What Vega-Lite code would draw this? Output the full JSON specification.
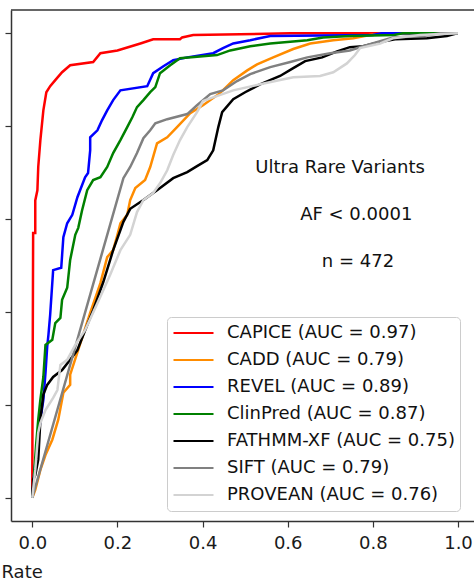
{
  "$schema": "https://vega.github.io/schema/vega-lite/v6.json",
  "width": 463,
  "height": 511,
  "autosize": {"type": "none"},
  "padding": {"left": 11, "top": 10, "right": 0, "bottom": 62},
  "background": "white",
  "config": {
    "view": {"stroke": null},
    "font": "DejaVu Sans",
    "axis": {"grid": false}
  },
  "layer": [
    {
      "data": {"values": [{}]},
      "mark": {"type": "rule", "color": "#333333", "strokeWidth": 1.5},
      "encoding": {"y": {"datum": 1.05, "type": "quantitative"}}
    },
    {
      "data": {"values": [
        {"m":"CAPICE (AUC = 0.97)","x":0,"y":0},{"m":"CAPICE (AUC = 0.97)","x":0,"y":0.039},{"m":"CAPICE (AUC = 0.97)","x":0.001,"y":0.3},{"m":"CAPICE (AUC = 0.97)","x":0.002,"y":0.57},{"m":"CAPICE (AUC = 0.97)","x":0.007,"y":0.57},{"m":"CAPICE (AUC = 0.97)","x":0.007,"y":0.64},{"m":"CAPICE (AUC = 0.97)","x":0.012,"y":0.662},{"m":"CAPICE (AUC = 0.97)","x":0.014,"y":0.712},{"m":"CAPICE (AUC = 0.97)","x":0.019,"y":0.77},{"m":"CAPICE (AUC = 0.97)","x":0.026,"y":0.834},{"m":"CAPICE (AUC = 0.97)","x":0.033,"y":0.873},{"m":"CAPICE (AUC = 0.97)","x":0.042,"y":0.886},{"m":"CAPICE (AUC = 0.97)","x":0.054,"y":0.899},{"m":"CAPICE (AUC = 0.97)","x":0.07,"y":0.916},{"m":"CAPICE (AUC = 0.97)","x":0.089,"y":0.931},{"m":"CAPICE (AUC = 0.97)","x":0.143,"y":0.938},{"m":"CAPICE (AUC = 0.97)","x":0.16,"y":0.957},{"m":"CAPICE (AUC = 0.97)","x":0.2,"y":0.963},{"m":"CAPICE (AUC = 0.97)","x":0.254,"y":0.978},{"m":"CAPICE (AUC = 0.97)","x":0.284,"y":0.987},{"m":"CAPICE (AUC = 0.97)","x":0.347,"y":0.987},{"m":"CAPICE (AUC = 0.97)","x":0.352,"y":0.991},{"m":"CAPICE (AUC = 0.97)","x":0.378,"y":0.996},{"m":"CAPICE (AUC = 0.97)","x":0.606,"y":1},{"m":"CAPICE (AUC = 0.97)","x":1,"y":1},
        {"m":"CADD (AUC = 0.79)","x":0,"y":0},{"m":"CADD (AUC = 0.79)","x":0.007,"y":0.017},{"m":"CADD (AUC = 0.79)","x":0.019,"y":0.06},{"m":"CADD (AUC = 0.79)","x":0.031,"y":0.092},{"m":"CADD (AUC = 0.79)","x":0.047,"y":0.125},{"m":"CADD (AUC = 0.79)","x":0.061,"y":0.168},{"m":"CADD (AUC = 0.79)","x":0.073,"y":0.226},{"m":"CADD (AUC = 0.79)","x":0.089,"y":0.243},{"m":"CADD (AUC = 0.79)","x":0.089,"y":0.265},{"m":"CADD (AUC = 0.79)","x":0.113,"y":0.333},{"m":"CADD (AUC = 0.79)","x":0.136,"y":0.398},{"m":"CADD (AUC = 0.79)","x":0.16,"y":0.462},{"m":"CADD (AUC = 0.79)","x":0.176,"y":0.518},{"m":"CADD (AUC = 0.79)","x":0.19,"y":0.533},{"m":"CADD (AUC = 0.79)","x":0.2,"y":0.566},{"m":"CADD (AUC = 0.79)","x":0.207,"y":0.591},{"m":"CADD (AUC = 0.79)","x":0.223,"y":0.609},{"m":"CADD (AUC = 0.79)","x":0.23,"y":0.641},{"m":"CADD (AUC = 0.79)","x":0.242,"y":0.667},{"m":"CADD (AUC = 0.79)","x":0.265,"y":0.684},{"m":"CADD (AUC = 0.79)","x":0.277,"y":0.712},{"m":"CADD (AUC = 0.79)","x":0.293,"y":0.763},{"m":"CADD (AUC = 0.79)","x":0.317,"y":0.776},{"m":"CADD (AUC = 0.79)","x":0.34,"y":0.798},{"m":"CADD (AUC = 0.79)","x":0.371,"y":0.828},{"m":"CADD (AUC = 0.79)","x":0.401,"y":0.845},{"m":"CADD (AUC = 0.79)","x":0.441,"y":0.871},{"m":"CADD (AUC = 0.79)","x":0.472,"y":0.899},{"m":"CADD (AUC = 0.79)","x":0.505,"y":0.92},{"m":"CADD (AUC = 0.79)","x":0.528,"y":0.933},{"m":"CADD (AUC = 0.79)","x":0.566,"y":0.948},{"m":"CADD (AUC = 0.79)","x":0.613,"y":0.966},{"m":"CADD (AUC = 0.79)","x":0.653,"y":0.978},{"m":"CADD (AUC = 0.79)","x":0.707,"y":0.985},{"m":"CADD (AUC = 0.79)","x":0.754,"y":0.989},{"m":"CADD (AUC = 0.79)","x":0.793,"y":0.996},{"m":"CADD (AUC = 0.79)","x":0.829,"y":1},{"m":"CADD (AUC = 0.79)","x":1,"y":1},
        {"m":"REVEL (AUC = 0.89)","x":0,"y":0},{"m":"REVEL (AUC = 0.89)","x":0.005,"y":0.06},{"m":"REVEL (AUC = 0.89)","x":0.014,"y":0.125},{"m":"REVEL (AUC = 0.89)","x":0.019,"y":0.168},{"m":"REVEL (AUC = 0.89)","x":0.026,"y":0.211},{"m":"REVEL (AUC = 0.89)","x":0.031,"y":0.269},{"m":"REVEL (AUC = 0.89)","x":0.035,"y":0.325},{"m":"REVEL (AUC = 0.89)","x":0.038,"y":0.351},{"m":"REVEL (AUC = 0.89)","x":0.042,"y":0.394},{"m":"REVEL (AUC = 0.89)","x":0.049,"y":0.49},{"m":"REVEL (AUC = 0.89)","x":0.068,"y":0.495},{"m":"REVEL (AUC = 0.89)","x":0.073,"y":0.561},{"m":"REVEL (AUC = 0.89)","x":0.082,"y":0.591},{"m":"REVEL (AUC = 0.89)","x":0.094,"y":0.609},{"m":"REVEL (AUC = 0.89)","x":0.106,"y":0.647},{"m":"REVEL (AUC = 0.89)","x":0.124,"y":0.69},{"m":"REVEL (AUC = 0.89)","x":0.131,"y":0.699},{"m":"REVEL (AUC = 0.89)","x":0.136,"y":0.748},{"m":"REVEL (AUC = 0.89)","x":0.136,"y":0.776},{"m":"REVEL (AUC = 0.89)","x":0.153,"y":0.791},{"m":"REVEL (AUC = 0.89)","x":0.164,"y":0.813},{"m":"REVEL (AUC = 0.89)","x":0.176,"y":0.834},{"m":"REVEL (AUC = 0.89)","x":0.19,"y":0.856},{"m":"REVEL (AUC = 0.89)","x":0.207,"y":0.877},{"m":"REVEL (AUC = 0.89)","x":0.27,"y":0.886},{"m":"REVEL (AUC = 0.89)","x":0.284,"y":0.914},{"m":"REVEL (AUC = 0.89)","x":0.308,"y":0.929},{"m":"REVEL (AUC = 0.89)","x":0.331,"y":0.942},{"m":"REVEL (AUC = 0.89)","x":0.364,"y":0.948},{"m":"REVEL (AUC = 0.89)","x":0.425,"y":0.957},{"m":"REVEL (AUC = 0.89)","x":0.448,"y":0.968},{"m":"REVEL (AUC = 0.89)","x":0.472,"y":0.978},{"m":"REVEL (AUC = 0.89)","x":0.512,"y":0.985},{"m":"REVEL (AUC = 0.89)","x":0.542,"y":0.991},{"m":"REVEL (AUC = 0.89)","x":0.559,"y":0.994},{"m":"REVEL (AUC = 0.89)","x":0.8,"y":0.996},{"m":"REVEL (AUC = 0.89)","x":0.82,"y":1},{"m":"REVEL (AUC = 0.89)","x":1,"y":1},
        {"m":"ClinPred (AUC = 0.87)","x":0,"y":0},{"m":"ClinPred (AUC = 0.87)","x":0.005,"y":0.06},{"m":"ClinPred (AUC = 0.87)","x":0.009,"y":0.114},{"m":"ClinPred (AUC = 0.87)","x":0.014,"y":0.168},{"m":"ClinPred (AUC = 0.87)","x":0.019,"y":0.211},{"m":"ClinPred (AUC = 0.87)","x":0.026,"y":0.26},{"m":"ClinPred (AUC = 0.87)","x":0.031,"y":0.329},{"m":"ClinPred (AUC = 0.87)","x":0.047,"y":0.34},{"m":"ClinPred (AUC = 0.87)","x":0.054,"y":0.376},{"m":"ClinPred (AUC = 0.87)","x":0.066,"y":0.387},{"m":"ClinPred (AUC = 0.87)","x":0.07,"y":0.426},{"m":"ClinPred (AUC = 0.87)","x":0.082,"y":0.452},{"m":"ClinPred (AUC = 0.87)","x":0.089,"y":0.512},{"m":"ClinPred (AUC = 0.87)","x":0.101,"y":0.566},{"m":"ClinPred (AUC = 0.87)","x":0.108,"y":0.581},{"m":"ClinPred (AUC = 0.87)","x":0.117,"y":0.619},{"m":"ClinPred (AUC = 0.87)","x":0.129,"y":0.662},{"m":"ClinPred (AUC = 0.87)","x":0.143,"y":0.684},{"m":"ClinPred (AUC = 0.87)","x":0.16,"y":0.69},{"m":"ClinPred (AUC = 0.87)","x":0.176,"y":0.712},{"m":"ClinPred (AUC = 0.87)","x":0.19,"y":0.742},{"m":"ClinPred (AUC = 0.87)","x":0.207,"y":0.77},{"m":"ClinPred (AUC = 0.87)","x":0.223,"y":0.798},{"m":"ClinPred (AUC = 0.87)","x":0.235,"y":0.819},{"m":"ClinPred (AUC = 0.87)","x":0.246,"y":0.841},{"m":"ClinPred (AUC = 0.87)","x":0.261,"y":0.856},{"m":"ClinPred (AUC = 0.87)","x":0.277,"y":0.873},{"m":"ClinPred (AUC = 0.87)","x":0.289,"y":0.884},{"m":"ClinPred (AUC = 0.87)","x":0.3,"y":0.914},{"m":"ClinPred (AUC = 0.87)","x":0.324,"y":0.931},{"m":"ClinPred (AUC = 0.87)","x":0.347,"y":0.946},{"m":"ClinPred (AUC = 0.87)","x":0.434,"y":0.953},{"m":"ClinPred (AUC = 0.87)","x":0.465,"y":0.963},{"m":"ClinPred (AUC = 0.87)","x":0.512,"y":0.972},{"m":"ClinPred (AUC = 0.87)","x":0.559,"y":0.978},{"m":"ClinPred (AUC = 0.87)","x":0.646,"y":0.985},{"m":"ClinPred (AUC = 0.87)","x":0.683,"y":0.991},{"m":"ClinPred (AUC = 0.87)","x":0.746,"y":0.994},{"m":"ClinPred (AUC = 0.87)","x":0.85,"y":0.996},{"m":"ClinPred (AUC = 0.87)","x":0.87,"y":1},{"m":"ClinPred (AUC = 0.87)","x":1,"y":1},
        {"m":"FATHMM-XF (AUC = 0.75)","x":0,"y":0},{"m":"FATHMM-XF (AUC = 0.75)","x":0.002,"y":0.039},{"m":"FATHMM-XF (AUC = 0.75)","x":0.007,"y":0.049},{"m":"FATHMM-XF (AUC = 0.75)","x":0.014,"y":0.082},{"m":"FATHMM-XF (AUC = 0.75)","x":0.019,"y":0.168},{"m":"FATHMM-XF (AUC = 0.75)","x":0.026,"y":0.222},{"m":"FATHMM-XF (AUC = 0.75)","x":0.035,"y":0.243},{"m":"FATHMM-XF (AUC = 0.75)","x":0.049,"y":0.26},{"m":"FATHMM-XF (AUC = 0.75)","x":0.07,"y":0.275},{"m":"FATHMM-XF (AUC = 0.75)","x":0.089,"y":0.297},{"m":"FATHMM-XF (AUC = 0.75)","x":0.106,"y":0.318},{"m":"FATHMM-XF (AUC = 0.75)","x":0.12,"y":0.351},{"m":"FATHMM-XF (AUC = 0.75)","x":0.143,"y":0.404},{"m":"FATHMM-XF (AUC = 0.75)","x":0.167,"y":0.465},{"m":"FATHMM-XF (AUC = 0.75)","x":0.19,"y":0.533},{"m":"FATHMM-XF (AUC = 0.75)","x":0.214,"y":0.594},{"m":"FATHMM-XF (AUC = 0.75)","x":0.23,"y":0.622},{"m":"FATHMM-XF (AUC = 0.75)","x":0.261,"y":0.641},{"m":"FATHMM-XF (AUC = 0.75)","x":0.293,"y":0.662},{"m":"FATHMM-XF (AUC = 0.75)","x":0.331,"y":0.688},{"m":"FATHMM-XF (AUC = 0.75)","x":0.364,"y":0.701},{"m":"FATHMM-XF (AUC = 0.75)","x":0.387,"y":0.714},{"m":"FATHMM-XF (AUC = 0.75)","x":0.411,"y":0.727},{"m":"FATHMM-XF (AUC = 0.75)","x":0.425,"y":0.748},{"m":"FATHMM-XF (AUC = 0.75)","x":0.437,"y":0.798},{"m":"FATHMM-XF (AUC = 0.75)","x":0.446,"y":0.83},{"m":"FATHMM-XF (AUC = 0.75)","x":0.472,"y":0.858},{"m":"FATHMM-XF (AUC = 0.75)","x":0.5,"y":0.873},{"m":"FATHMM-XF (AUC = 0.75)","x":0.535,"y":0.89},{"m":"FATHMM-XF (AUC = 0.75)","x":0.582,"y":0.908},{"m":"FATHMM-XF (AUC = 0.75)","x":0.613,"y":0.925},{"m":"FATHMM-XF (AUC = 0.75)","x":0.641,"y":0.94},{"m":"FATHMM-XF (AUC = 0.75)","x":0.681,"y":0.948},{"m":"FATHMM-XF (AUC = 0.75)","x":0.716,"y":0.961},{"m":"FATHMM-XF (AUC = 0.75)","x":0.746,"y":0.97},{"m":"FATHMM-XF (AUC = 0.75)","x":0.777,"y":0.972},{"m":"FATHMM-XF (AUC = 0.75)","x":0.817,"y":0.981},{"m":"FATHMM-XF (AUC = 0.75)","x":0.852,"y":0.987},{"m":"FATHMM-XF (AUC = 0.75)","x":0.927,"y":0.989},{"m":"FATHMM-XF (AUC = 0.75)","x":0.974,"y":0.994},{"m":"FATHMM-XF (AUC = 0.75)","x":0.998,"y":1},{"m":"FATHMM-XF (AUC = 0.75)","x":1,"y":1},
        {"m":"SIFT (AUC = 0.79)","x":0,"y":0},{"m":"SIFT (AUC = 0.79)","x":0.214,"y":0.688},{"m":"SIFT (AUC = 0.79)","x":0.23,"y":0.712},{"m":"SIFT (AUC = 0.79)","x":0.246,"y":0.742},{"m":"SIFT (AUC = 0.79)","x":0.261,"y":0.774},{"m":"SIFT (AUC = 0.79)","x":0.277,"y":0.791},{"m":"SIFT (AUC = 0.79)","x":0.289,"y":0.806},{"m":"SIFT (AUC = 0.79)","x":0.317,"y":0.815},{"m":"SIFT (AUC = 0.79)","x":0.364,"y":0.826},{"m":"SIFT (AUC = 0.79)","x":0.387,"y":0.845},{"m":"SIFT (AUC = 0.79)","x":0.418,"y":0.869},{"m":"SIFT (AUC = 0.79)","x":0.448,"y":0.877},{"m":"SIFT (AUC = 0.79)","x":0.481,"y":0.897},{"m":"SIFT (AUC = 0.79)","x":0.512,"y":0.912},{"m":"SIFT (AUC = 0.79)","x":0.559,"y":0.927},{"m":"SIFT (AUC = 0.79)","x":0.606,"y":0.938},{"m":"SIFT (AUC = 0.79)","x":0.646,"y":0.948},{"m":"SIFT (AUC = 0.79)","x":0.7,"y":0.957},{"m":"SIFT (AUC = 0.79)","x":0.746,"y":0.963},{"m":"SIFT (AUC = 0.79)","x":0.777,"y":0.972},{"m":"SIFT (AUC = 0.79)","x":0.817,"y":0.983},{"m":"SIFT (AUC = 0.79)","x":0.847,"y":0.991},{"m":"SIFT (AUC = 0.79)","x":0.918,"y":0.994},{"m":"SIFT (AUC = 0.79)","x":0.958,"y":1},{"m":"SIFT (AUC = 0.79)","x":1,"y":1},
        {"m":"PROVEAN (AUC = 0.76)","x":0,"y":0},{"m":"PROVEAN (AUC = 0.76)","x":0.007,"y":0.06},{"m":"PROVEAN (AUC = 0.76)","x":0.014,"y":0.14},{"m":"PROVEAN (AUC = 0.76)","x":0.019,"y":0.161},{"m":"PROVEAN (AUC = 0.76)","x":0.031,"y":0.189},{"m":"PROVEAN (AUC = 0.76)","x":0.049,"y":0.215},{"m":"PROVEAN (AUC = 0.76)","x":0.059,"y":0.232},{"m":"PROVEAN (AUC = 0.76)","x":0.066,"y":0.286},{"m":"PROVEAN (AUC = 0.76)","x":0.082,"y":0.297},{"m":"PROVEAN (AUC = 0.76)","x":0.101,"y":0.329},{"m":"PROVEAN (AUC = 0.76)","x":0.124,"y":0.361},{"m":"PROVEAN (AUC = 0.76)","x":0.153,"y":0.419},{"m":"PROVEAN (AUC = 0.76)","x":0.183,"y":0.48},{"m":"PROVEAN (AUC = 0.76)","x":0.207,"y":0.533},{"m":"PROVEAN (AUC = 0.76)","x":0.23,"y":0.566},{"m":"PROVEAN (AUC = 0.76)","x":0.246,"y":0.615},{"m":"PROVEAN (AUC = 0.76)","x":0.261,"y":0.641},{"m":"PROVEAN (AUC = 0.76)","x":0.284,"y":0.656},{"m":"PROVEAN (AUC = 0.76)","x":0.3,"y":0.677},{"m":"PROVEAN (AUC = 0.76)","x":0.317,"y":0.705},{"m":"PROVEAN (AUC = 0.76)","x":0.331,"y":0.738},{"m":"PROVEAN (AUC = 0.76)","x":0.347,"y":0.77},{"m":"PROVEAN (AUC = 0.76)","x":0.364,"y":0.798},{"m":"PROVEAN (AUC = 0.76)","x":0.387,"y":0.83},{"m":"PROVEAN (AUC = 0.76)","x":0.401,"y":0.854},{"m":"PROVEAN (AUC = 0.76)","x":0.425,"y":0.862},{"m":"PROVEAN (AUC = 0.76)","x":0.472,"y":0.877},{"m":"PROVEAN (AUC = 0.76)","x":0.535,"y":0.89},{"m":"PROVEAN (AUC = 0.76)","x":0.613,"y":0.905},{"m":"PROVEAN (AUC = 0.76)","x":0.676,"y":0.908},{"m":"PROVEAN (AUC = 0.76)","x":0.707,"y":0.916},{"m":"PROVEAN (AUC = 0.76)","x":0.739,"y":0.935},{"m":"PROVEAN (AUC = 0.76)","x":0.758,"y":0.953},{"m":"PROVEAN (AUC = 0.76)","x":0.77,"y":0.968},{"m":"PROVEAN (AUC = 0.76)","x":0.817,"y":0.978},{"m":"PROVEAN (AUC = 0.76)","x":0.847,"y":0.989},{"m":"PROVEAN (AUC = 0.76)","x":0.911,"y":0.996},{"m":"PROVEAN (AUC = 0.76)","x":1,"y":1}
      ]},
      "mark": {"type": "line", "strokeWidth": 2.5, "clip": false},
      "encoding": {
        "x": {
          "field": "x", "type": "quantitative",
          "scale": {"domain": [-0.05, 1.0376], "nice": false, "zero": false},
          "axis": {
            "values": [0, 0.2, 0.4, 0.6, 0.8, 1.0], "format": ".1f",
            "labelFont": "DejaVu Sans", "labelFontSize": 18, "labelColor": "#1a1a1a",
            "labelPadding": 7, "labelFlush": false, "labelOverlap": false,
            "tickSize": 6, "tickWidth": 1.2, "tickColor": "#333333",
            "domainColor": "#333333", "domainWidth": 1.5,
            "title": "Rate", "titleFont": "DejaVu Sans", "titleFontSize": 18,
            "titleFontWeight": "normal", "titleColor": "#1a1a1a",
            "titleAnchor": "start", "titleAlign": "left", "titleBaseline": "alphabetic",
            "titleX": -10, "titleY": 56
          }
        },
        "y": {
          "field": "y", "type": "quantitative",
          "scale": {"domain": [-0.05, 1.05], "nice": false, "zero": false},
          "axis": {
            "values": [0, 0.2, 0.4, 0.6, 0.8, 1.0], "labels": false, "title": null,
            "tickSize": 6, "tickWidth": 1.2, "tickColor": "#333333",
            "domainColor": "#333333", "domainWidth": 1.5
          }
        },
        "order": {"value": null},
        "color": {
          "field": "m", "type": "nominal",
          "scale": {
            "domain": ["CAPICE (AUC = 0.97)", "CADD (AUC = 0.79)", "REVEL (AUC = 0.89)", "ClinPred (AUC = 0.87)", "FATHMM-XF (AUC = 0.75)", "SIFT (AUC = 0.79)", "PROVEAN (AUC = 0.76)"],
            "range": ["#ff0000", "#ff8c00", "#0000ff", "#008000", "#000000", "#808080", "#d3d3d3"]
          },
          "legend": {
            "title": null, "orient": "none", "direction": "vertical",
            "legendX": 156, "legendY": 307,
            "symbolType": "stroke", "symbolSize": 1600, "symbolStrokeWidth": 2.2,
            "clipHeight": 22, "rowPadding": 5, "padding": 5, "labelOffset": 12,
            "labelFont": "DejaVu Sans", "labelFontSize": 18, "labelColor": "#111111", "labelLimit": 400,
            "strokeColor": "#cccccc", "fillColor": "#ffffff", "cornerRadius": 4
          }
        }
      }
    },
    {
      "data": {"values": [
        {"x": 0.723, "y": 0.699, "t": "Ultra Rare Variants"},
        {"x": 0.761, "y": 0.598, "t": "AF < 0.0001"},
        {"x": 0.765, "y": 0.497, "t": "n = 472"}
      ]},
      "mark": {"type": "text", "align": "center", "baseline": "alphabetic", "font": "DejaVu Sans", "fontSize": 18, "color": "#111111"},
      "encoding": {
        "x": {"field": "x", "type": "quantitative"},
        "y": {"field": "y", "type": "quantitative"},
        "text": {"field": "t"}
      }
    }
  ]
}
